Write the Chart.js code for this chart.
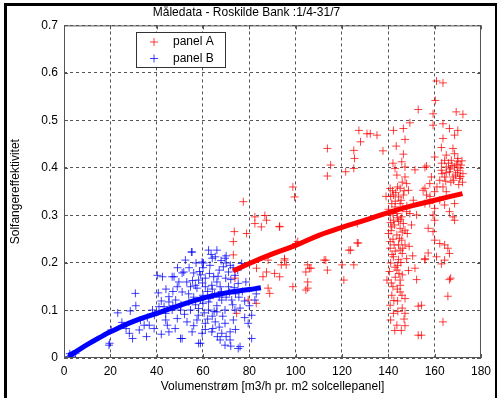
<!DOCTYPE html>
<html>
<head>
<meta charset="utf-8">
<script src="https://cdn.jsdelivr.net/npm/chart.js@4"></script>
<style>
  body { margin: 0; background: #fff; }
  #wrap { position: relative; width: 497px; height: 398px; }
  #edge { position: absolute; left: 4px; top: 3px; width: 488px; height: 400px;
          border: 3px solid #000; border-bottom: none; pointer-events: none; }
</style>
</head>
<body>
<div id="wrap">
  <canvas id="chart" width="497" height="398"></canvas>
  <div id="edge"></div>
</div>
<script>
// x ticks and y ticks
const xTicks = [0, 20, 40, 60, 80, 100, 120, 140, 160, 180];
const yTicks = [0, 0.1, 0.2, 0.3, 0.4, 0.5, 0.6, 0.7];

// panel A (red) measurements [flow, efficiency]
const panelA = [
  [77.4,0.329],[82.4,0.297],[82.4,0.283],[73.5,0.266],[73.1,0.245],[78.8,0.262],[73.1,0.217],[73.8,0.168],[74.5,0.094],[79.5,0.122],[83,0.115],
  [98.8,0.36],[99.5,0.339],[86.7,0.3],[87.4,0.29],[85.2,0.276],[93.1,0.276],[100.2,0.241],[88.1,0.206],[95.2,0.206],[95.9,0.196],[83.1,0.189],
  [87.4,0.181],[90.9,0.178],[93.1,0.171],[105.2,0.196],[105.9,0.189],[104.4,0.181],[112.3,0.206],[113.7,0.185],[120.1,0.196],[125.1,0.196],
  [123.7,0.227],[127,0.242],[120.8,0.164],[105.2,0.16],[98.8,0.15],[105.2,0.147],[88.1,0.147],[88.8,0.136],[85.9,0.171],
  [113.7,0.441],[115.1,0.406],[113.7,0.383],[93,0.277],[127.3,0.479],[130.8,0.472],[128,0.455],[125.1,0.437],[125.4,0.42],[121.6,0.392],
  [125.1,0.399],[126.6,0.283],[126.6,0.242],[123,0.227],[113,0.206],[106.6,0.189],[104.4,0.143],[95.2,0.209],[93.8,0.196],[100.9,0.245],
  [152.9,0.523],[149.3,0.495],[146.5,0.483],[142.2,0.479],[147.2,0.46],[132.2,0.472],[135.1,0.469],[137.7,0.436],[143.4,0.446],[146.5,0.429],
  [145.8,0.413],[142.9,0.399],[147.2,0.402],[151.5,0.396],[155.8,0.401],[143.7,0.385],[147.2,0.381],[147.9,0.367],[140.8,0.357],[145.1,0.357],
  [148.7,0.353],[142.2,0.343],[144.4,0.339],[146.5,0.343],[155,0.353],[150.8,0.332],[141.5,0.325],[142.9,0.318],[145.1,0.325],[140.1,0.313],
  [147.9,0.308],[140.8,0.301],[143.7,0.304],[145.8,0.297],[149.3,0.304],[152.2,0.301],[142.2,0.29],[144.4,0.287],[146.5,0.283],[141.5,0.276],
  [145.1,0.273],[147.2,0.269],[140.1,0.262],[143.7,0.259],[145.8,0.248],[140.8,0.245],[144.4,0.238],[147.2,0.238],[140.8,0.231],[145.1,0.227],
  [142.2,0.213],[144.4,0.207],[147.9,0.209],[155.8,0.207],[151.5,0.189],[143.7,0.185],[148.7,0.184],[139.4,0.164],[145.1,0.164],[152.2,0.165],
  [145.1,0.153],[141.5,0.132],[145.1,0.139],[147.2,0.125],[140.8,0.111],[152.9,0.109],[142.2,0.094],[147.2,0.094],[143.7,0.069],[147.2,0.068],
  [152.9,0.048],[155.8,0.325],
  [141,0.34],[143,0.33],[146,0.315],[142,0.305],[144,0.295],[141,0.285],[146,0.265],[142,0.25],[143,0.225],[146,0.22],[141,0.2],[144,0.195],
  [143,0.17],[146,0.175],[142,0.15],[144,0.12],[146,0.105],[141,0.08],[144,0.36],[146,0.37],[142,0.41],[148,0.32],[150,0.28],[139,0.34],
  [141.8,0.352],[143.2,0.348],[145.5,0.332],[146.8,0.352],[142.6,0.28],[145.2,0.292],[141.2,0.268],[144.8,0.252],[142.5,0.238],[146.2,0.231],
  [141.6,0.218],[145.4,0.201],[142.9,0.191],[144.6,0.178],[141.3,0.158],[143.9,0.145],[145.9,0.132],[142.4,0.121],[144.1,0.098],[146.8,0.082],
  [142.8,0.058],[145.6,0.058],[140.5,0.182],[148.2,0.262],[149,0.235],[150.5,0.215],
  [160.8,0.583],[163.6,0.579],[160.3,0.542],[159.3,0.514],[169.3,0.518],[172.2,0.513],[159.3,0.49],[163.6,0.493],[166.4,0.483],[170,0.479],
  [168.6,0.469],[163.6,0.462],[162.9,0.443],[167.9,0.441],[168.6,0.43],[165,0.427],[160,0.423],[156.5,0.404],[164.3,0.416],[167.2,0.416],
  [170,0.413],[171.4,0.406],[165,0.402],[168.6,0.402],[162.9,0.395],[166.4,0.392],[170,0.395],[172.2,0.388],[164.3,0.381],[167.9,0.381],
  [170.7,0.378],[158.6,0.381],[162.2,0.374],[157.9,0.367],[155.8,0.357],[163.6,0.36],[160,0.35],[165,0.35],[156.5,0.343],[162.2,0.332],
  [168.6,0.325],[164.3,0.322],[157.9,0.325],[160,0.315],[166.4,0.308],[167.9,0.297],[168.6,0.29],[159.3,0.301],[160,0.29],[157.2,0.273],
  [159.3,0.266],[160,0.248],[162.2,0.241],[164.3,0.238],[165.7,0.231],[166.4,0.22],[157.2,0.221],[155.8,0.209],[160.8,0.213],[164.3,0.206],
  [162.9,0.198],[166.9,0.168],[165.7,0.13],[163.6,0.076],[154.3,0.048],[154.3,0.111],[166.4,0.165],
  [166,0.41],[169,0.385],[171,0.4],[167,0.37],[165,0.39],[163,0.41],[170,0.42],[172,0.37],[161,0.36],[158,0.34],
  [167.5,0.405],[169.8,0.39],[171.2,0.382],[166.8,0.398],[168.2,0.374],[170.4,0.365],[164.8,0.372],[163.2,0.388],[171.8,0.415],[169.5,0.408]
];

// panel B (blue) measurements
const panelB = [
  [2,0.003],[3,0.005],[4,0.008],[3.5,0.002],[5,0.01],[2.5,0.009],
  [19.4,0.027],[20.4,0.059],[23.2,0.095],[30.8,0.136],[28.6,0.099],[26.8,0.062],[28.2,0.052],[29.6,0.041],[32.5,0.059],[35.6,0.045],
  [34.6,0.069],[36.8,0.069],[38.9,0.062],[40.3,0.174],[40.7,0.137],[41,0.108],[38.2,0.101],[43.9,0.094],[44.6,0.069],[45.3,0.118],
  [46.7,0.171],[52.4,0.206],[55,0.223],[51,0.179],[48.9,0.15],[51,0.041],[56.7,0.153],
  [55.3,0.223],[62.4,0.227],[66,0.227],[65.3,0.213],[59.6,0.202],[69.5,0.21],[68.8,0.192],[76.7,0.199],[71,0.181],[51.7,0.181],[56,0.179],
  [47.5,0.171],[42.5,0.171],[49.6,0.16],[58.1,0.164],[61,0.168],[64.6,0.171],[73.8,0.174],[54.6,0.15],[57.4,0.147],[61,0.15],[63.8,0.153],
  [67.4,0.15],[71,0.15],[75.2,0.157],[51,0.139],[45.3,0.129],[48.2,0.122],[53.9,0.118],[58.9,0.122],[62.4,0.118],[68.1,0.122],[72.4,0.122],
  [43.2,0.108],[46.7,0.101],[50.3,0.101],[54.6,0.101],[58.1,0.104],[62.4,0.101],[66,0.097],[69.5,0.101],[73.8,0.101],[43.9,0.08],[48.9,0.083],
  [53.1,0.076],[57.4,0.08],[61,0.073],[65.3,0.076],[69.5,0.073],[73.1,0.08],[45.3,0.055],[55.3,0.055],[59.6,0.052],[63.8,0.055],[68.1,0.052],
  [71.7,0.055],[50.3,0.041],[58.9,0.031],[67.4,0.038],[71.7,0.038],[76,0.024],[81,0.041],[79.5,0.073],[81,0.09],[82.4,0.122],[19.7,0.031],
  [58.1,0.031],[69.5,0.027],[72,0.025],[75.2,0.02],
  [60,0.19],[63,0.195],[67,0.185],[70,0.2],[72,0.165],[66,0.16],[59,0.175],[62,0.14],[65,0.135],[68,0.14],[70,0.128],[74,0.135],[77,0.14],
  [78,0.12],[76,0.105],[60,0.132],[56,0.128],[53,0.16],[58,0.09],[64,0.088],[67,0.065],[52,0.092],[47,0.11],[42,0.12],[36,0.085],[33,0.08],
  [39,0.09],[31,0.11],[25,0.075],[57,0.2],[54,0.19],[64,0.21],[70,0.215],[73,0.19],[61,0.06],[70,0.045],[74,0.06],[78,0.085],[80,0.11],
  [83,0.135],[49,0.19],[44,0.145],[47,0.14],[60,0.115],[66,0.11],[63,0.125],
  [58.5,0.182],[62.8,0.178],[66.5,0.172],[69.8,0.168],[55.5,0.163],[59.8,0.158],[64,0.145],[67,0.128],[71.5,0.138],[73.5,0.148],
  [56.8,0.112],[60.5,0.095],[64.8,0.098],[68.5,0.088],[72.8,0.112],[75.5,0.128],[53.8,0.135],[50.5,0.112],[62,0.082],[66.2,0.045],
  [56,0.068],[64.2,0.062],[60.2,0.2],[67.8,0.205],[63.5,0.218],[71.8,0.195],[75,0.185],[78.5,0.16],[48,0.062],[42,0.05]
];

// fitted curves
const fitAX = [73, 80, 90, 100, 110, 120, 130, 140, 150, 160, 172];
const fitAY = [0.183, 0.199, 0.219, 0.237, 0.258, 0.275, 0.29, 0.306, 0.32, 0.332, 0.346];
const fitBX = [2, 5, 10, 15, 20, 30, 40, 50, 60, 70, 80, 85];
const fitBY = [0.005, 0.013, 0.028, 0.042, 0.055, 0.077, 0.094, 0.111, 0.126, 0.137, 0.144, 0.148];

const RED = 'rgba(255,0,0,0.75)';
const BLUE = 'rgba(0,0,255,0.75)';

const toPts = arr => arr.map(p => ({x: p[0], y: p[1]}));
const zipPts = (xs, ys) => xs.map((v, i) => ({x: v, y: ys[i]}));

Chart.defaults.font.family = '"Liberation Sans", Arial, sans-serif';
Chart.defaults.font.size = 12;
Chart.defaults.color = '#000';

// box round the plot, inner ticks and the small legend
const matlabBox = {
  id: 'matlabBox',
  afterDatasetsDraw(chart) {
    const {ctx, chartArea: a, scales: {x, y}} = chart;
    ctx.save();
    ctx.strokeStyle = '#555';
    ctx.lineWidth = 1;
    ctx.beginPath();
    xTicks.forEach(v => {
      const px = Math.round(x.getPixelForValue(v)) + 0.5;
      ctx.moveTo(px, a.bottom); ctx.lineTo(px, a.bottom - 4);
      ctx.moveTo(px, a.top); ctx.lineTo(px, a.top + 4);
    });
    yTicks.forEach(v => {
      const py = Math.round(y.getPixelForValue(v)) + 0.5;
      ctx.moveTo(a.left, py); ctx.lineTo(a.left + 4, py);
      ctx.moveTo(a.right, py); ctx.lineTo(a.right - 4, py);
    });
    ctx.stroke();
    ctx.strokeRect(a.left + 0.5, a.top + 0.5, a.width - 1, a.height - 1);

    // legend
    const lx = 136.5, ly = 32.5, lw = 89, lh = 35;
    ctx.fillStyle = '#fff';
    ctx.fillRect(lx, ly, lw, lh);
    ctx.strokeStyle = '#333';
    ctx.strokeRect(lx, ly, lw, lh);
    const items = chart.data.datasets.filter(d => d.inLegend);
    items.forEach((d, i) => {
      const cy = ly + 9.5 + i * 16.5;
      ctx.strokeStyle = d.borderColor;
      ctx.beginPath();
      ctx.moveTo(154, cy - 4); ctx.lineTo(154, cy + 4);
      ctx.moveTo(150, cy); ctx.lineTo(158, cy);
      ctx.stroke();
      ctx.fillStyle = '#000';
      ctx.font = '12px "Liberation Sans", Arial, sans-serif';
      ctx.textBaseline = 'middle';
      ctx.fillText(d.label, 173, cy);
    });
    ctx.restore();
  }
};

new Chart(document.getElementById('chart'), {
  type: 'scatter',
  data: {
    datasets: [
      {
        label: 'fit A', data: zipPts(fitAX, fitAY), showLine: true, tension: 0.4,
        borderColor: 'rgb(255,0,0)', borderWidth: 5, pointRadius: 0, order: 0
      },
      {
        label: 'fit B', data: zipPts(fitBX, fitBY), showLine: true, tension: 0.4,
        borderColor: 'rgb(0,0,255)', borderWidth: 5, pointRadius: 0, order: 1
      },
      {
        label: 'panel A', data: toPts(panelA), inLegend: true,
        pointStyle: 'cross', pointRadius: 4, borderWidth: 1, borderColor: RED, order: 3
      },
      {
        label: 'panel B', data: toPts(panelB), inLegend: true,
        pointStyle: 'cross', pointRadius: 4, borderWidth: 1, borderColor: BLUE, order: 2
      }
    ]
  },
  options: {
    responsive: false,
    animation: false,
    events: [],
    layout: { padding: { left: 8, right: 12, top: 0, bottom: 0 } },
    plugins: {
      legend: { display: false },
      tooltip: { enabled: false },
      title: {
        display: true,
        text: 'Måledata - Roskilde Bank :1/4-31/7',
        font: { size: 12, weight: 'normal' },
        color: '#000',
        padding: { top: 5, bottom: 6 }
      }
    },
    scales: {
      x: {
        type: 'linear', min: 0, max: 180,
        afterBuildTicks: s => { s.ticks = xTicks.map(v => ({value: v})); },
        afterFit: s => { s.height = 40; },
        ticks: { padding: 6, color: '#000' },
        grid: { color: '#555', drawTicks: false },
        border: { display: false, dash: [3, 3] },
        title: { display: true, text: 'Volumenstrøm [m3/h pr. m2 solcellepanel]', padding: { top: 0, bottom: 4 } }
      },
      y: {
        type: 'linear', min: 0, max: 0.7,
        afterBuildTicks: s => { s.ticks = yTicks.map(v => ({value: v})); },
        afterFit: s => { s.width = 56; },
        ticks: { padding: 6, color: '#000' },
        grid: { color: '#555', drawTicks: false },
        border: { display: false, dash: [3, 3] },
        title: { display: true, text: 'Solfangereffektivitet', padding: { top: 0, bottom: 0 } }
      }
    }
  },
  plugins: [matlabBox]
});
</script>
</body>
</html>
